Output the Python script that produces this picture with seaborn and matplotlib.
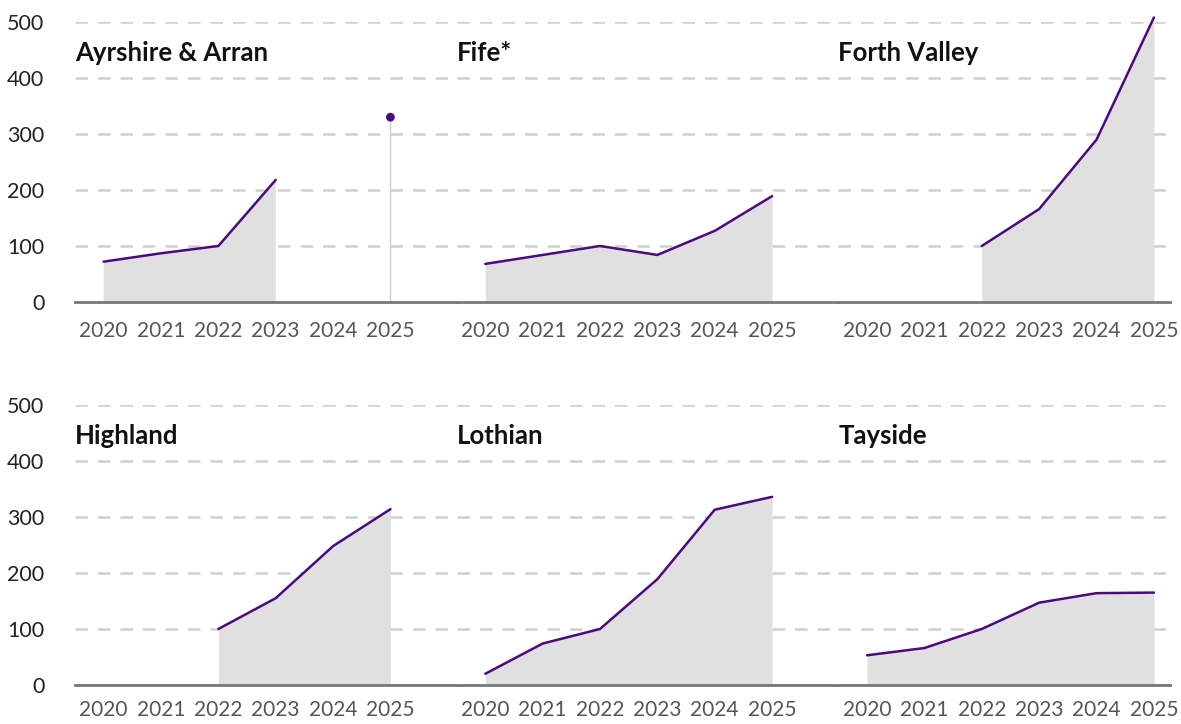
import matplotlib
matplotlib.use("Agg")
import matplotlib.pyplot as plt
import numpy as np
import pandas as pd
import seaborn as sns

# data
years = [2020, 2021, 2022, 2023, 2024, 2025]
nan = np.nan
ayrshire = [72, 87, 100, 218, nan, 330]
fife = [68, 84, 100, 84, 127, 189]
forth_valley = [nan, nan, 100, 166, 290, 508]
highland = [nan, nan, 100, 155, 248, 314]
lothian = [20, 74, 100, 189, 313, 336]
tayside = [53, 66, 100, 147, 164, 165]

boards = ["Ayrshire & Arran", "Fife*", "Forth Valley", "Highland", "Lothian", "Tayside"]
series = [ayrshire, fife, forth_valley, highland, lothian, tayside]

purple = "#4b0a7d"
area = "#e0e0e0"

sns.set_theme(style="white")
plt.rcParams["font.family"] = ["Lato", "DejaVu Sans"]

fig = plt.figure(figsize=(11.81, 7.24), dpi=100)
gs = fig.add_gridspec(2, 3, width_ratios=[382, 382, 332], left=0.0635, right=0.9907,
                      bottom=0.0539, top=0.9696, hspace=0.368, wspace=0)


def runs(vals):
    # split into contiguous non-missing pieces
    out, cur = [], []
    for y, v in zip(years, vals):
        if np.isnan(v):
            if cur:
                out.append(cur)
            cur = []
        else:
            cur.append((y, v))
    if cur:
        out.append(cur)
    return out


for i, (name, vals) in enumerate(zip(boards, series)):
    r, c = divmod(i, 3)
    ax = fig.add_subplot(gs[r, c])
    df = pd.DataFrame({"year": years, "value": vals})

    ax.fill_between(df["year"], 0, df["value"], color=area, lw=0, zorder=1)
    for seg in runs(vals):
        sd = pd.DataFrame(seg, columns=["year", "value"])
        if len(sd) > 1:
            sns.lineplot(data=sd, x="year", y="value", ax=ax, color=purple, lw=1.8,
                         zorder=3, clip_on=False)
        else:
            ax.vlines(sd["year"], 0, sd["value"], color="#cccccc", lw=1, zorder=2)
            sns.scatterplot(data=sd, x="year", y="value", ax=ax, color=purple, s=40,
                            edgecolor="none", zorder=4, clip_on=False)

    ax.set_ylim(0, 500)
    ax.set_xlim(2019.5, 2026.155 if c < 2 else 2025.28)
    ax.set_xticks(years)
    ax.set_xticklabels([str(y) for y in years])
    ax.set_yticks([0, 100, 200, 300, 400, 500])
    ax.set_xlabel("")
    ax.set_ylabel("")

    for y in [100, 200, 300, 400, 500]:
        ax.axhline(y, color="#d0d0d0", lw=1.8, dashes=(5, 4), zorder=0)

    for s in ["top", "right", "left"]:
        ax.spines[s].set_visible(False)
    ax.spines["bottom"].set_color("#777777")
    ax.spines["bottom"].set_linewidth(2)
    ax.spines["bottom"].set_zorder(5)

    ax.tick_params(axis="x", length=0, pad=14 if r == 0 else 11, labelsize=15,
                   labelcolor="#555555")
    ax.tick_params(axis="y", length=0, pad=22, labelsize=15.5, labelcolor="#222222")
    if c > 0:
        ax.tick_params(axis="y", labelleft=False)

    ax.text(0, 445, name, transform=ax.get_yaxis_transform(), fontsize=18.5,
            fontweight="bold", color="#111111", va="center", ha="left")

fig.savefig("out.png", dpi=100)
